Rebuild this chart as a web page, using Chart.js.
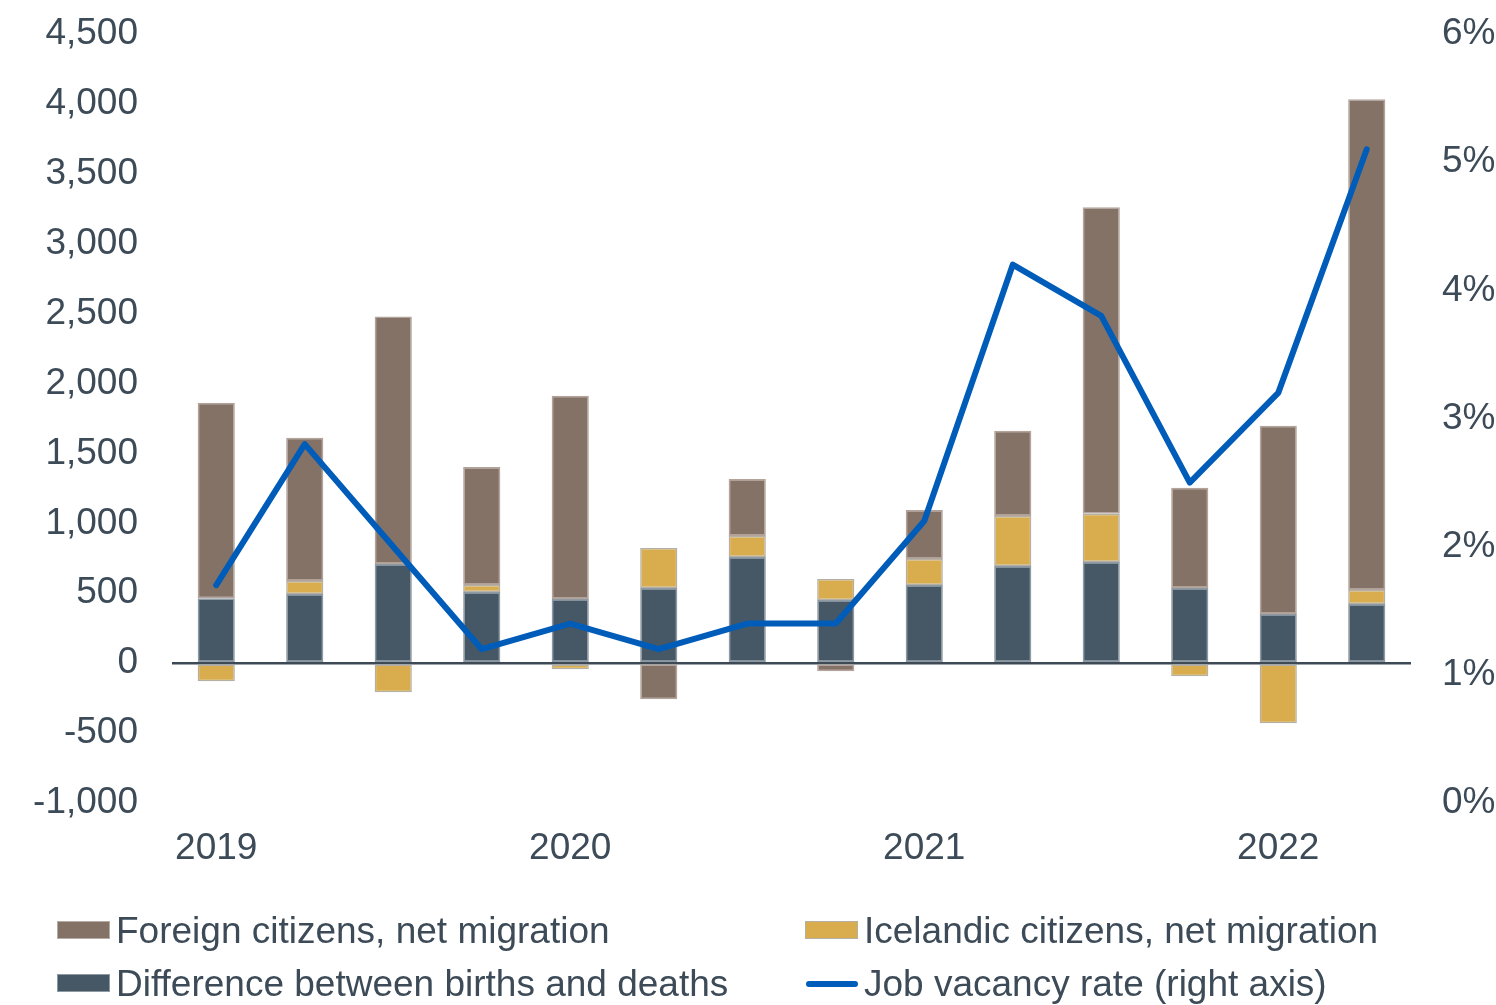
<!DOCTYPE html>
<html>
<head>
<meta charset="utf-8">
<script src="https://cdn.jsdelivr.net/npm/chart.js@4.4.0/dist/chart.umd.min.js"></script>
<style>
  body { margin: 0; background: #fff; font-family: "Liberation Sans", Arial, sans-serif; }
  #wrap { position: relative; width: 1496px; height: 1005px; }
  .sw { position: absolute; width: 51px; height: 16px; border: 1.5px solid #b3aba5; }
  .ln { position: absolute; width: 52px; height: 6px; border-radius: 3px; background: #005cb9; }
  .txt { position: absolute; font-size: 37px; line-height: 40px; color: #3c4b57; white-space: nowrap; }
</style>
</head>
<body>
<div id="wrap">
  <canvas id="canvasOne" width="1496" height="1005"></canvas>
  <div class="sw" style="left:57px;top:921px;background:#857267;"></div>
  <div class="txt" style="left:116px;top:911px;">Foreign citizens, net migration</div>
  <div class="sw" style="left:57px;top:974px;background:#465866;border-color:#8e9aa3;"></div>
  <div class="txt" style="left:116px;top:964px;">Difference between births and deaths</div>
  <div class="sw" style="left:805px;top:921px;background:#d9ac4e;border-color:#b4b0a4;"></div>
  <div class="txt" style="left:864px;top:911px;">Icelandic citizens, net migration</div>
  <div class="ln" style="left:806px;top:981px;"></div>
  <div class="txt" style="left:864px;top:964px;">Job vacancy rate (right axis)</div>
</div>
<script>
// quarters 2019 Q1 .. 2022 Q2, only Q1 gets a year label
var labels = ['2019', '', '', '', '2020', '', '', '', '2021', '', '', '', '2022', ''];
var birthsDeaths = [465, 494, 709, 509, 459, 537, 760, 451, 559, 695, 724, 537, 351, 423];
var icelandic = [-130, 94, -208, 50, -43, 287, 150, 151, 186, 358, 344, -93, -430, 100];
var foreign = [1398, 1024, 1770, 845, 1454, -258, 408, -57, 351, 609, 2192, 717, 1347, 3511];
var vacancy = [1.7, 2.8, 2.0, 1.2, 1.4, 1.2, 1.4, 1.4, 2.2, 4.2, 3.8, 2.5, 3.2, 5.1];

var textColor = '#3c4b57';
var tickFont = { family: '"Liberation Sans", Arial, sans-serif', size: 37 };

// fixed axis box sizes so the plot area lands where it should
function fixY(width) {
   return function(scale) {
      scale.width = width;
      scale.paddingTop = 0;
      scale.paddingBottom = 0;
   };
}

var ctx = document.getElementById('canvasOne').getContext('2d');
var config = {
   type: 'bar',
   data: {
      labels: labels,
      datasets: [{
         label: 'Difference between births and deaths',
         data: birthsDeaths,
         backgroundColor: '#465866',
         borderColor: '#8e9aa3',
         borderWidth: 1.5,
         borderSkipped: false,
         yAxisID: 'y',
         order: 1
      }, {
         label: 'Icelandic citizens, net migration',
         data: icelandic,
         backgroundColor: '#d9ac4e',
         borderColor: '#b4b0a4',
         borderWidth: 1.5,
         borderSkipped: false,
         yAxisID: 'y',
         order: 1
      }, {
         label: 'Foreign citizens, net migration',
         data: foreign,
         backgroundColor: '#857267',
         borderColor: '#b3a39a',
         borderWidth: 1.5,
         borderSkipped: false,
         yAxisID: 'y',
         order: 1
      }, {
         type: 'line',
         label: 'Job vacancy rate (right axis)',
         data: vacancy,
         borderColor: '#005cb9',
         borderWidth: 6,
         pointRadius: 0,
         tension: 0,
         borderCapStyle: 'round',
         borderJoinStyle: 'round',
         yAxisID: 'y1',
         order: 0
      }]
   },
   options: {
      responsive: false,
      animation: false,
      layout: { padding: { top: 34, left: 0, right: 0, bottom: 0 } },
      datasets: { bar: { barPercentage: 0.42, categoryPercentage: 1 } },
      plugins: { legend: { display: false }, tooltip: { enabled: false } },
      scales: {
         x: {
            stacked: true,
            grid: { display: false },
            border: { display: false },
            ticks: { color: textColor, font: tickFont, maxRotation: 0, autoSkip: false, padding: 16 },
            afterFit: function(scale) { scale.height = 202; }
         },
         y: {
            stacked: true,
            position: 'left',
            min: -1000,
            max: 4500,
            grid: {
               drawTicks: false,
               lineWidth: 2.5,
               color: function(c) { return c.tick && c.tick.value === 0 ? '#3d4a55' : 'rgba(0,0,0,0)'; }
            },
            border: { display: false },
            ticks: {
               stepSize: 500,
               color: textColor,
               font: tickFont,
               padding: 34,
               callback: function(v) { return v.toLocaleString('en-US'); }
            },
            afterFit: fixY(172)
         },
         y1: {
            position: 'right',
            min: 0,
            max: 6,
            grid: { display: false, drawTicks: false },
            border: { display: false },
            ticks: {
               stepSize: 1,
               color: textColor,
               font: tickFont,
               padding: 31,
               callback: function(v) { return v + '%'; }
            },
            afterFit: fixY(85)
         }
      }
   }
};

var chart = new Chart(ctx, config);
</script>
</body>
</html>
